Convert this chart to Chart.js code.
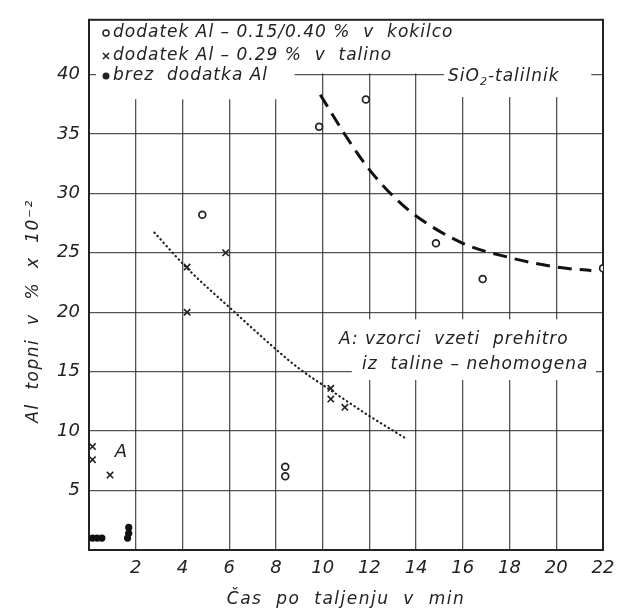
<!DOCTYPE html>
<html>
<head>
<meta charset="utf-8">
<script src="https://cdn.jsdelivr.net/npm/chart.js@4/dist/chart.umd.min.js"></script>
<style>
  html, body { margin: 0; padding: 0; background: #fff; }
  #wrap { width: 623px; height: 613px; }
</style>
</head>
<body>
<div id="wrap"><canvas id="c" width="623" height="613"></canvas></div>
<script>
// o  dodatek Al - 0.15/0.40 % v kokilco
const circleX = [4.85, 8.4, 8.4, 9.85, 11.85, 14.85, 16.85, 22.0];
const circleY = [28.2, 7.0, 6.2, 35.6, 37.9, 25.8, 22.8, 23.7];
// x  dodatek Al - 0.29 % v talino
const crossX = [0.15, 0.15, 0.9, 4.2, 4.2, 5.85, 10.35, 10.35, 10.95];
const crossY = [8.7, 7.6, 6.3, 23.8, 20.0, 25.0, 13.6, 12.7, 12.0];
// .  brez dodatka Al
const dotX = [0.15, 0.35, 0.55, 1.7, 1.7, 1.65];
const dotY = [1.0, 1.0, 1.0, 1.9, 1.4, 1.0];
// dashed curve (SiO2 talilnik)
const dashX = [9.9, 11.0, 12.0, 13.0, 14.0, 16.0, 18.0, 20.0, 21.5];
const dashY = [38.3, 34.8, 32.0, 29.8, 28.1, 25.8, 24.6, 23.8, 23.5];
// dotted curve
const dotLineX = [2.8, 4.2, 6.1, 7.5, 8.9, 10.3, 11.9, 13.55];
const dotLineY = [26.7, 23.7, 20.25, 17.75, 15.4, 13.5, 11.4, 9.4];

const xTicks = [2, 4, 6, 8, 10, 12, 14, 16, 18, 20, 22];
const yTicks = [5, 10, 15, 20, 25, 30, 35, 40];

const legendItems = [
  { mark: 'circle', text: 'dodatek Al – 0.15/0.40 %  v  kokilco' },
  { mark: 'cross', text: 'dodatek Al – 0.29 %  v  talino' },
  { mark: 'dot', text: 'brez  dodatka Al' }
];
const xTitle = 'Čas  po  taljenju  v  min';
const yTitle = 'Al  topni  v  %  x  10⁻²';

const FONT = "'DejaVu Sans', sans-serif";
const INK = '#222';
const GRID = 'rgba(40,40,40,0.8)';

function pts(xs, ys) {
  return xs.map((v, i) => ({ x: v, y: ys[i] }));
}

function drawMark(ctx, kind, x, y) {
  ctx.save();
  ctx.strokeStyle = INK;
  ctx.fillStyle = INK;
  ctx.lineWidth = 1.5;
  if (kind === 'circle') {
    ctx.beginPath(); ctx.arc(x, y, 3, 0, Math.PI * 2); ctx.stroke();
  } else if (kind === 'cross') {
    ctx.beginPath();
    ctx.moveTo(x - 3, y - 3); ctx.lineTo(x + 3, y + 3);
    ctx.moveTo(x + 3, y - 3); ctx.lineTo(x - 3, y + 3);
    ctx.stroke();
  } else {
    ctx.beginPath(); ctx.arc(x, y, 3.5, 0, Math.PI * 2); ctx.fill();
  }
  ctx.restore();
}

const paper = {
  id: 'paper',
  beforeDatasetsDraw(chart) {
    const { ctx, chartArea: a, scales: { x, y } } = chart;
    const y40 = y.getPixelForValue(40);
    ctx.save();
    ctx.fillStyle = '#fff';
    // no grid above 40
    ctx.fillRect(a.left + 1, a.top, a.right - a.left - 2, y40 - a.top - 1);
    // legend background
    ctx.fillRect(a.left + 7, a.top + 1, x.getPixelForValue(8.8) - a.left - 7, y.getPixelForValue(38.0) - a.top);
    // SiO2 label background
    ctx.fillRect(x.getPixelForValue(15.2), y40 - 12, x.getPixelForValue(21.5) - x.getPixelForValue(15.2), y.getPixelForValue(38.1) - y40 + 12);
    // note background
    ctx.fillRect(x.getPixelForValue(10.5), y.getPixelForValue(19.4), x.getPixelForValue(21.7) - x.getPixelForValue(10.5), y.getPixelForValue(17.0) - y.getPixelForValue(19.4));
    ctx.fillRect(x.getPixelForValue(11.25), y.getPixelForValue(17.0), x.getPixelForValue(21.7) - x.getPixelForValue(11.25), y.getPixelForValue(14.3) - y.getPixelForValue(17.0));
    // frame
    ctx.strokeStyle = INK;
    ctx.lineWidth = 2;
    ctx.strokeRect(a.left, a.top, a.right - a.left, a.bottom - a.top);
    ctx.restore();
  },
  afterDraw(chart) {
    const { ctx, chartArea: a, scales: { x, y } } = chart;
    ctx.save();
    ctx.fillStyle = INK;
    ctx.textBaseline = 'middle';
    ctx.font = 'italic 17px ' + FONT;
    ctx.letterSpacing = '1px';
    // legend
    const rows = [33, 56, 76];
    legendItems.forEach((it, i) => {
      drawMark(ctx, it.mark, a.left + 17, rows[i]);
      ctx.fillText(it.text, a.left + 24, rows[i]);
    });
    // SiO2 label
    const y40 = y.getPixelForValue(40);
    ctx.fillText('SiO', 448, y40 + 2);
    let w = ctx.measureText('SiO').width;
    ctx.font = 'italic 11px ' + FONT;
    ctx.fillText('2', 448 + w, y40 + 8);
    let w2 = ctx.measureText('2').width;
    ctx.font = 'italic 17px ' + FONT;
    ctx.fillText('-talilnik', 448 + w + w2, y40 + 2);
    // note
    ctx.fillText('A: vzorci  vzeti  prehitro', 339, 340);
    ctx.fillText('iz  taline – nehomogena', 362, 365);
    // label A
    ctx.font = 'italic 18px ' + FONT;
    ctx.fillText('A', x.getPixelForValue(1.1), y.getPixelForValue(8.2));
    // axis titles
    ctx.font = 'italic 17px ' + FONT;
    ctx.letterSpacing = '1.5px';
    ctx.textAlign = 'center';
    ctx.fillText(xTitle, (a.left + a.right) / 2, 600);
    ctx.translate(34, 311);
    ctx.rotate(-Math.PI / 2);
    ctx.fillText(yTitle, 0, 0);
    ctx.restore();
  }
};

new Chart(document.getElementById('c'), {
  type: 'scatter',
  data: {
    datasets: [
      {
        label: 'SiO2-talilnik',
        data: pts(dashX, dashY),
        showLine: true,
        borderColor: '#111',
        borderWidth: 3,
        borderDash: [14, 8],
        pointRadius: 0,
        cubicInterpolationMode: 'monotone',
        fill: false
      },
      {
        label: 'trend',
        data: pts(dotLineX, dotLineY),
        showLine: true,
        borderColor: '#222',
        borderWidth: 2.2,
        borderDash: [0.5, 4],
        borderCapStyle: 'round',
        pointRadius: 0,
        cubicInterpolationMode: 'monotone',
        fill: false
      },
      {
        label: 'dodatek Al-0.15/0.40 % v kokilco',
        data: pts(circleX, circleY),
        pointStyle: 'circle',
        pointRadius: 3.4,
        pointBorderWidth: 1.7,
        pointBorderColor: INK,
        pointBackgroundColor: '#fff'
      },
      {
        label: 'dodatek Al-0.29 % v talino',
        data: pts(crossX, crossY),
        pointStyle: 'crossRot',
        pointRadius: 4.5,
        pointBorderWidth: 1.6,
        pointBorderColor: INK
      },
      {
        label: 'brez dodatka Al',
        data: pts(dotX, dotY),
        pointStyle: 'circle',
        pointRadius: 3.6,
        pointBorderWidth: 0,
        pointBackgroundColor: '#111'
      }
    ]
  },
  options: {
    responsive: false,
    animation: false,
    devicePixelRatio: 1,
    layout: { padding: { left: 0, right: 20, top: 15, bottom: 0 } },
    plugins: {
      legend: { display: false },
      tooltip: { enabled: false }
    },
    scales: {
      x: {
        type: 'linear',
        min: 0,
        max: 22,
        afterFit(s) { s.height = 63; },
        afterBuildTicks(s) { s.ticks = xTicks.map(v => ({ value: v })); },
        grid: { color: GRID, lineWidth: 1.3, drawTicks: false },
        border: { color: INK, width: 2 },
        ticks: {
          padding: 8,
          color: INK,
          font: { family: FONT, size: 18, style: 'italic' }
        }
      },
      y: {
        type: 'linear',
        min: 0,
        max: 44.6,
        afterFit(s) { s.width = 89; },
        afterBuildTicks(s) { s.ticks = [0].concat(yTicks).map(v => ({ value: v })); },
        grid: { color: GRID, lineWidth: 1.3, drawTicks: false },
        border: { color: INK, width: 2 },
        ticks: {
          padding: 9,
          color: INK,
          font: { family: FONT, size: 18, style: 'italic' },
          callback: v => (v === 0 ? '' : v)
        }
      }
    }
  },
  plugins: [paper]
});
</script>
</body>
</html>
